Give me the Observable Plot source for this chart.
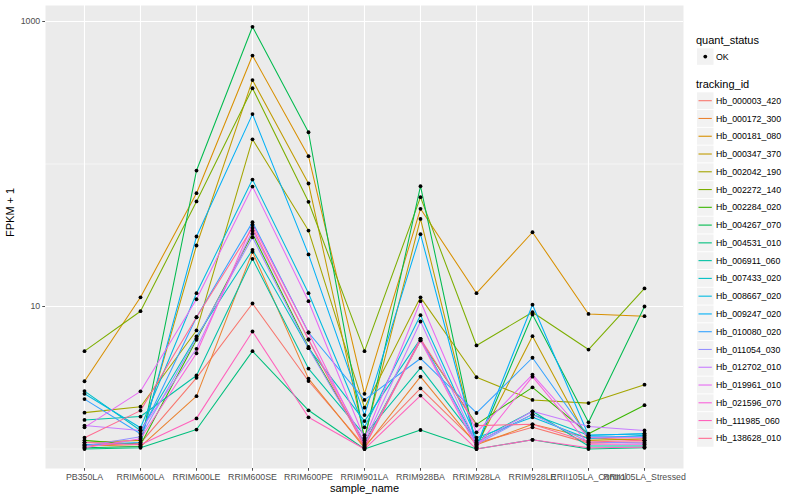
<!DOCTYPE html>
<html>
<head>
<meta charset="utf-8">
<script src="https://cdn.jsdelivr.net/npm/d3@7"></script>
<script src="https://cdn.jsdelivr.net/npm/@observablehq/plot@0.6"></script>
<style>
  html, body { margin: 0; padding: 0; background: white; }
  #wrap { position: relative; width: 800px; height: 500px; font-family: "Liberation Sans", Arial, sans-serif; }
  #legend { position: absolute; left: 0; top: 0; }
</style>
</head>
<body>
<div id="wrap"></div>
<script>
const categories = ["PB350LA","RRIM600LA","RRIM600LE","RRIM600SE","RRIM600PE","RRIM901LA","RRIM928BA","RRIM928LA","RRIM928LE","RRII105LA_Control","RRII105LA_Stressed"];
const trackingIds = ["Hb_000003_420","Hb_000172_300","Hb_000181_080","Hb_000347_370","Hb_002042_190","Hb_002272_140","Hb_002284_020","Hb_004267_070","Hb_004531_010","Hb_006911_060","Hb_007433_020","Hb_008667_020","Hb_009247_020","Hb_010080_020","Hb_011054_030","Hb_012702_010","Hb_019961_010","Hb_021596_070","Hb_111985_060","Hb_138628_010"];
const palette = ["#F8766D","#EA8331","#D89000","#C09B00","#A3A500","#7CAE00","#39B600","#00BB4E","#00BF7D","#00C1A3","#00BFC4","#00BAE0","#00B0F6","#35A2FF","#9590FF","#C77CFF","#E76BF3","#FA62DB","#FF62BC","#FF6C91"];
const yTicks = [10, 1000];

// FPKM + 1 per sample, one array per tracking id
const hb_000003_420 = [1.05, 1.10, 3.16, 10.5, 3.00, 1.05, 2.66, 1.10, 1.42, 1.10, 1.12];
const hb_000172_300 = [1.07, 1.04, 2.35, 24.2, 3.12, 1.02, 3.22, 1.07, 1.49, 1.20, 1.15];
const hb_000181_080 = [2.99, 11.6, 62.4, 577, 113.5, 2.44, 48.5, 12.4, 33.2, 8.87, 8.55];
const hb_000347_370 = [1.11, 1.15, 26.8, 388, 73.0, 1.20, 41.2, 1.05, 6.19, 1.15, 1.18];
const hb_002042_190 = [1.80, 1.98, 6.79, 149, 34.1, 1.95, 11.6, 3.19, 2.21, 2.10, 2.83];
const hb_002272_140 = [4.86, 9.27, 54.6, 340, 54.3, 4.86, 58.5, 5.33, 9.12, 4.99, 13.4];
const hb_002284_020 = [1.15, 1.07, 5.84, 32.4, 5.20, 1.10, 5.78, 1.49, 2.71, 1.28, 2.03];
const hb_004267_070 = [1.02, 1.04, 90.0, 918, 167, 1.15, 69.9, 1.02, 8.79, 1.54, 10.0];
const hb_004531_010 = [1.00, 1.02, 1.37, 4.86, 1.87, 1.00, 1.36, 1.00, 1.16, 1.00, 1.02];
const hb_006911_060 = [1.60, 1.69, 3.28, 21.6, 3.67, 1.25, 3.71, 1.15, 1.84, 1.05, 1.05];
const hb_007433_020 = [2.55, 1.35, 6.16, 25.0, 5.10, 1.57, 5.93, 1.12, 1.75, 1.25, 1.28];
const hb_008667_020 = [2.44, 1.41, 12.4, 77.8, 12.4, 1.42, 8.69, 1.20, 1.67, 1.18, 1.25];
const hb_009247_020 = [1.07, 1.11, 31.0, 224, 23.2, 1.73, 32.2, 1.05, 10.3, 1.25, 1.28];
const hb_010080_020 = [2.24, 1.28, 8.41, 39.1, 6.57, 2.21, 4.32, 1.79, 4.37, 1.22, 1.22];
const hb_011054_030 = [1.05, 1.22, 5.99, 30.6, 5.10, 1.08, 5.93, 1.08, 1.75, 1.12, 1.10];
const hb_012702_010 = [1.46, 1.35, 5.05, 34.1, 5.87, 1.12, 7.85, 1.10, 1.84, 1.44, 1.35];
const hb_019961_010 = [1.42, 2.54, 11.25, 69.5, 10.9, 1.18, 10.9, 1.31, 3.33, 1.20, 1.20];
const hb_021596_070 = [1.02, 1.18, 4.70, 37.6, 6.57, 1.05, 5.78, 1.03, 3.22, 1.08, 1.08];
const hb_111985_060 = [1.11, 1.07, 1.64, 6.68, 1.67, 1.00, 2.37, 1.00, 1.16, 1.02, 1.03];
const hb_138628_010 = [1.20, 1.86, 8.41, 35.7, 5.87, 1.03, 5.93, 1.46, 1.49, 1.12, 1.15];

const seriesValues = [hb_000003_420, hb_000172_300, hb_000181_080, hb_000347_370, hb_002042_190, hb_002272_140, hb_002284_020, hb_004267_070, hb_004531_010, hb_006911_060, hb_007433_020, hb_008667_020, hb_009247_020, hb_010080_020, hb_011054_030, hb_012702_010, hb_019961_010, hb_021596_070, hb_111985_060, hb_138628_010];

const rows = [];
trackingIds.forEach((id, i) => {
  seriesValues[i].forEach((v, j) => rows.push({tracking_id: id, sample_name: categories[j], fpkm: v}));
});

const font = "'Liberation Sans', Arial, Helvetica, sans-serif";

const chart = Plot.plot({
  width: 800,
  height: 500,
  marginLeft: 45,
  marginRight: 117,
  marginTop: 5,
  marginBottom: 32,
  style: {fontFamily: font, background: "white", overflow: "visible"},
  x: {type: "point", domain: categories, padding: 0.6},
  y: {type: "log", domain: [0.73, 1295]},
  color: {domain: trackingIds, range: palette},
  marks: [
    Plot.frame({fill: "#EBEBEB", stroke: null}),
    Plot.ruleY([1, 100], {stroke: "white", strokeWidth: 0.55}),
    Plot.ruleY(yTicks, {stroke: "white", strokeWidth: 1.1}),
    Plot.ruleX(categories, {stroke: "white", strokeWidth: 1.1}),
    Plot.line(rows, {x: "sample_name", y: "fpkm", z: "tracking_id", stroke: "tracking_id", strokeWidth: 1.05}),
    Plot.dot(rows, {x: "sample_name", y: "fpkm", r: 1.9, fill: "black", stroke: null}),
    Plot.axisY({ticks: yTicks, tickFormat: d => String(d), tickSize: 2.75, tickPadding: 2.5, fontSize: 8.8, color: "#4D4D4D", label: null}),
    Plot.axisX({tickSize: 2.75, tickPadding: 2.5, fontSize: 8.8, color: "#4D4D4D", label: null}),
    Plot.text(["sample_name"], {frameAnchor: "bottom", dy: 20, fontSize: 11, fill: "black", lineAnchor: "middle"}),
    Plot.text(["FPKM + 1"], {frameAnchor: "left", dx: -35, rotate: -90, fontSize: 11, fill: "black", lineAnchor: "middle"})
  ]
});

const wrap = document.getElementById("wrap");
wrap.appendChild(chart);

// Legend (right side), drawn as SVG text and swatches from the same color arrays
const lg = d3.select(wrap).append("svg")
  .attr("id", "legend")
  .attr("width", 800).attr("height", 500)
  .style("pointer-events", "none")
  .style("font-family", font);

lg.append("text").attr("x", 696).attr("y", 44).attr("font-size", 11).attr("fill", "black").text("quant_status");
lg.append("rect").attr("x", 697).attr("y", 48.3).attr("width", 16.5).attr("height", 16.5).attr("fill", "#F2F2F2");
lg.append("circle").attr("cx", 705.3).attr("cy", 56.6).attr("r", 1.9).attr("fill", "black");
lg.append("text").attr("x", 716).attr("y", 56.6).attr("dy", "0.35em").attr("font-size", 8.8).attr("fill", "black").text("OK");

lg.append("text").attr("x", 696).attr("y", 88).attr("font-size", 11).attr("fill", "black").text("tracking_id");
trackingIds.forEach((id, i) => {
  const cy = 100.7 + i * 17.77;
  lg.append("rect").attr("x", 697).attr("y", cy - 8.4).attr("width", 16.5).attr("height", 16.8).attr("fill", "#F2F2F2");
  lg.append("line").attr("x1", 698.5).attr("x2", 711.8).attr("y1", cy).attr("y2", cy).attr("stroke", palette[i]).attr("stroke-width", 1.1);
  lg.append("text").attr("x", 716).attr("y", cy).attr("dy", "0.35em").attr("font-size", 8.8).attr("fill", "black").text(id);
});
</script>
</body>
</html>
